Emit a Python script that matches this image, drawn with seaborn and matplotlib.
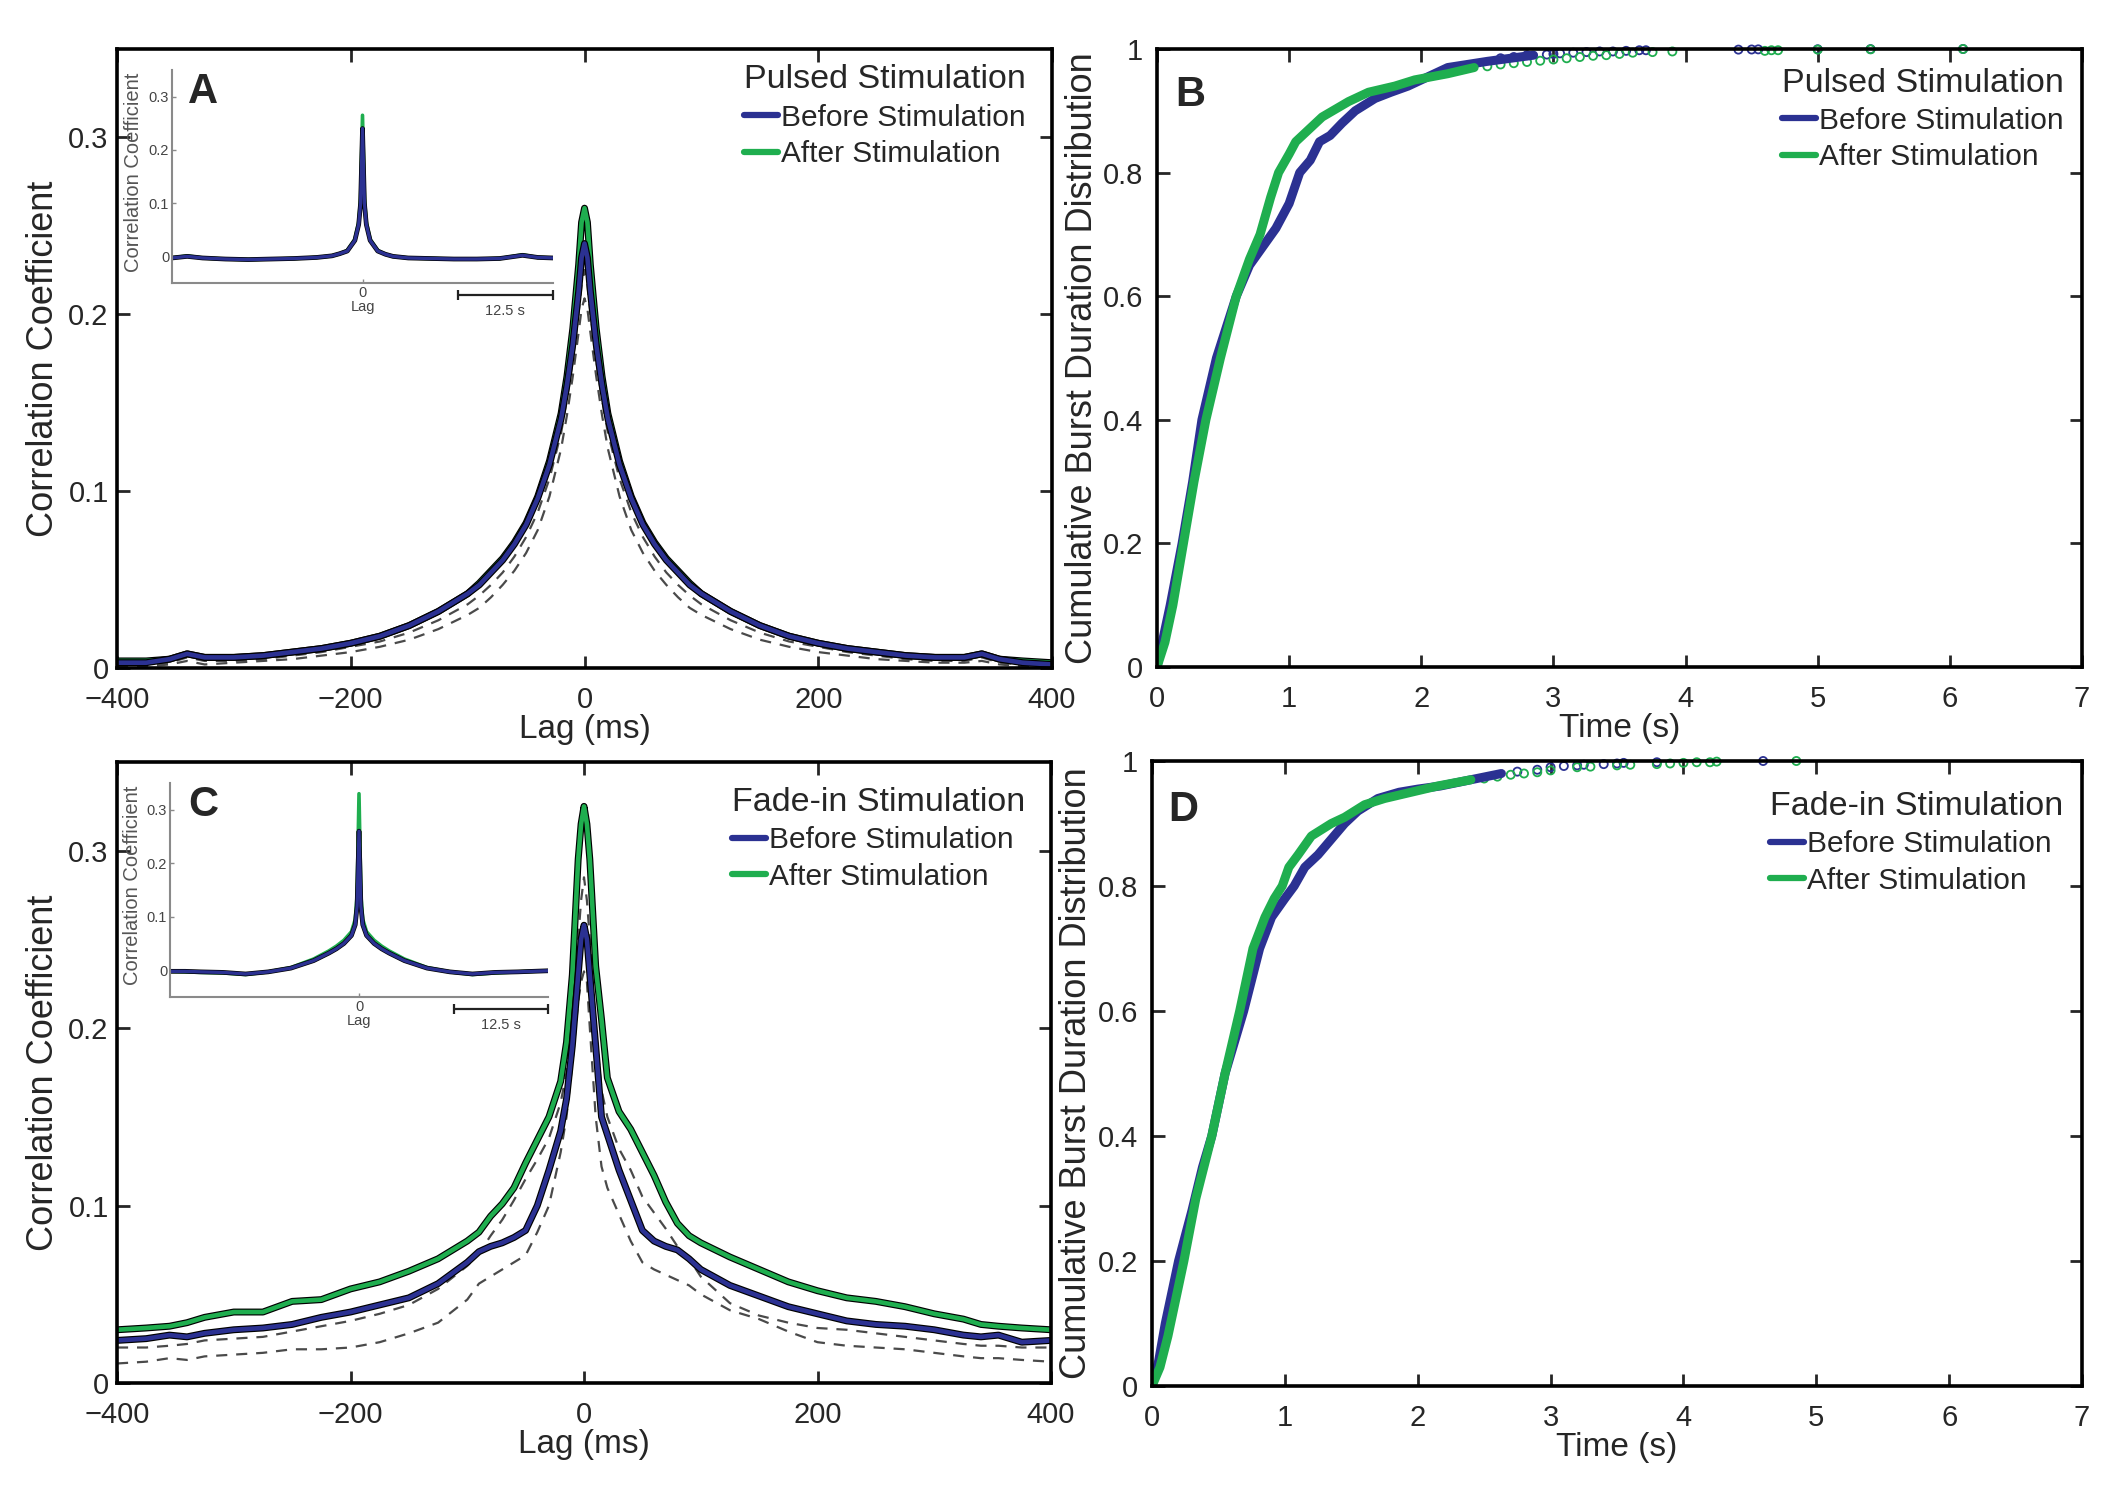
import matplotlib
matplotlib.use("Agg")
import matplotlib.pyplot as plt
import matplotlib.patheffects as pe
from matplotlib.lines import Line2D
import seaborn as sns

sns.set_style("ticks")
plt.rcParams["font.family"] = ["Liberation Sans", "DejaVu Sans"]

BLUE = "#2b3192"
GREEN = "#1fae4f"
DASH = "#4a4a4a"

# ---- cross-correlation, main panels (lag in ms) ----
lag_ms = [-400, -375, -355, -340, -325, -300, -275, -250, -225, -200, -175, -150, -125, -100,
          -90, -80, -70, -60, -50, -40, -30, -20, -15, -10, -5, -2.5, 0, 2.5, 5, 10, 15, 20,
          30, 40, 50, 60, 70, 80, 90, 100, 125, 150, 175, 200, 225, 250, 275, 300, 325, 340,
          355, 375, 400]

a_before = [0.003, 0.003, 0.005, 0.008, 0.006, 0.006, 0.007, 0.009, 0.011, 0.014, 0.018, 0.024,
            0.032, 0.042, 0.047, 0.054, 0.061, 0.070, 0.081, 0.096, 0.115, 0.141, 0.160, 0.183,
            0.213, 0.232, 0.240, 0.232, 0.213, 0.183, 0.160, 0.141, 0.115, 0.096, 0.081, 0.070,
            0.061, 0.054, 0.047, 0.042, 0.032, 0.024, 0.018, 0.014, 0.011, 0.009, 0.007, 0.006,
            0.006, 0.008, 0.005, 0.003, 0.002]
a_after = [0.004, 0.004, 0.005, 0.008, 0.006, 0.006, 0.007, 0.009, 0.011, 0.014, 0.018, 0.024,
           0.032, 0.042, 0.048, 0.055, 0.062, 0.071, 0.082, 0.097, 0.117, 0.144, 0.165, 0.192,
           0.228, 0.252, 0.260, 0.252, 0.228, 0.192, 0.165, 0.144, 0.117, 0.097, 0.082, 0.071,
           0.062, 0.055, 0.048, 0.042, 0.032, 0.024, 0.018, 0.014, 0.011, 0.009, 0.007, 0.006,
           0.006, 0.008, 0.005, 0.004, 0.003]
a_ci_hi = [0.002, 0.002, 0.003, 0.006, 0.004, 0.004, 0.005, 0.007, 0.009, 0.012, 0.015, 0.020,
           0.027, 0.036, 0.041, 0.047, 0.054, 0.063, 0.074, 0.088, 0.107, 0.133, 0.152, 0.174,
           0.201, 0.217, 0.225, 0.217, 0.201, 0.174, 0.152, 0.133, 0.107, 0.088, 0.074, 0.063,
           0.054, 0.047, 0.041, 0.036, 0.027, 0.020, 0.015, 0.012, 0.009, 0.007, 0.005, 0.004,
           0.004, 0.006, 0.003, 0.002, 0.002]
a_ci_lo = [0.001, 0.001, 0.002, 0.004, 0.002, 0.003, 0.004, 0.005, 0.007, 0.009, 0.012, 0.016,
           0.022, 0.030, 0.034, 0.040, 0.047, 0.055, 0.065, 0.078, 0.097, 0.124, 0.143, 0.165,
           0.190, 0.203, 0.209, 0.203, 0.190, 0.165, 0.143, 0.124, 0.097, 0.078, 0.065, 0.055,
           0.047, 0.040, 0.034, 0.030, 0.022, 0.016, 0.012, 0.009, 0.007, 0.005, 0.004, 0.003,
           0.003, 0.004, 0.002, 0.001, 0.001]

c_before = [0.024, 0.025, 0.027, 0.026, 0.028, 0.030, 0.031, 0.033, 0.037, 0.040, 0.044, 0.048,
            0.056, 0.068, 0.074, 0.077, 0.079, 0.082, 0.086, 0.100, 0.120, 0.142, 0.160, 0.190,
            0.230, 0.250, 0.258, 0.250, 0.230, 0.190, 0.150, 0.140, 0.120, 0.103, 0.086, 0.080,
            0.077, 0.075, 0.070, 0.064, 0.055, 0.049, 0.043, 0.039, 0.035, 0.033, 0.032, 0.030,
            0.027, 0.026, 0.027, 0.023, 0.024]
c_after = [0.030, 0.031, 0.032, 0.034, 0.037, 0.040, 0.040, 0.046, 0.047, 0.053, 0.057, 0.063,
           0.070, 0.080, 0.085, 0.094, 0.101, 0.110, 0.124, 0.137, 0.150, 0.170, 0.192, 0.230,
           0.295, 0.315, 0.325, 0.315, 0.295, 0.235, 0.205, 0.172, 0.153, 0.143, 0.130, 0.117,
           0.102, 0.090, 0.083, 0.079, 0.071, 0.064, 0.057, 0.052, 0.048, 0.046, 0.043, 0.039,
           0.036, 0.033, 0.032, 0.031, 0.030]
c_ci_hi = [0.020, 0.020, 0.021, 0.022, 0.024, 0.025, 0.026, 0.029, 0.032, 0.035, 0.039, 0.044,
           0.053, 0.066, 0.073, 0.083, 0.092, 0.103, 0.115, 0.126, 0.138, 0.158, 0.175, 0.205,
           0.250, 0.272, 0.285, 0.272, 0.250, 0.200, 0.165, 0.150, 0.132, 0.120, 0.105, 0.096,
           0.087, 0.077, 0.070, 0.060, 0.045, 0.038, 0.034, 0.031, 0.030, 0.028, 0.026, 0.024,
           0.022, 0.021, 0.021, 0.020, 0.020]
c_ci_lo = [0.011, 0.012, 0.014, 0.013, 0.015, 0.016, 0.017, 0.019, 0.019, 0.020, 0.023, 0.028,
           0.034, 0.047, 0.056, 0.060, 0.064, 0.068, 0.072, 0.085, 0.100, 0.130, 0.150, 0.180,
           0.215, 0.226, 0.232, 0.226, 0.200, 0.150, 0.122, 0.110, 0.095, 0.080, 0.068, 0.064,
           0.061, 0.058, 0.055, 0.050, 0.041, 0.036, 0.029, 0.023, 0.021, 0.020, 0.019, 0.017,
           0.015, 0.014, 0.014, 0.013, 0.012]

# ---- insets (lag in s) ----
inset_lag_s = [-25, -23, -21, -18, -15, -12, -9, -6, -4, -3, -2, -1, -0.5, -0.25, 0, 0.25, 0.5,
               1, 2, 3, 4, 6, 9, 12, 15, 18, 21, 23, 25]
ia_before = [-0.003, 0.000, -0.003, -0.005, -0.006, -0.005, -0.004, -0.002, 0.001, 0.005, 0.010,
             0.030, 0.060, 0.100, 0.240, 0.100, 0.060, 0.030, 0.010, 0.004, 0.000, -0.003, -0.004,
             -0.005, -0.005, -0.004, 0.002, -0.002, -0.003]
ia_after = [-0.003, 0.001, -0.003, -0.005, -0.006, -0.005, -0.004, -0.002, 0.001, 0.005, 0.011,
            0.032, 0.064, 0.108, 0.265, 0.108, 0.064, 0.032, 0.011, 0.004, 0.000, -0.003, -0.004,
            -0.005, -0.005, -0.004, 0.003, -0.002, -0.003]
ic_before = [-0.002, -0.002, -0.003, -0.004, -0.007, -0.003, 0.004, 0.018, 0.032, 0.040, 0.050,
             0.065, 0.085, 0.120, 0.260, 0.120, 0.085, 0.065, 0.050, 0.040, 0.032, 0.018, 0.004,
             -0.003, -0.007, -0.004, -0.003, -0.002, -0.001]
ic_after = [-0.002, -0.003, -0.004, -0.005, -0.008, -0.003, 0.005, 0.021, 0.036, 0.045, 0.056,
            0.072, 0.095, 0.140, 0.330, 0.140, 0.095, 0.072, 0.056, 0.045, 0.036, 0.021, 0.005,
            -0.003, -0.008, -0.005, -0.003, -0.002, -0.001]

# ---- cumulative burst duration distributions ----
b_before_t = [0, 0.05, 0.1, 0.19, 0.27, 0.34, 0.45, 0.6, 0.7, 0.8, 0.9, 1.0, 1.08, 1.16, 1.23,
              1.31, 1.4, 1.5, 1.65, 1.77, 1.9, 2.0, 2.2, 2.5, 2.85]
b_before_p = [0, 0.05, 0.1, 0.2, 0.3, 0.4, 0.5, 0.6, 0.65, 0.68, 0.71, 0.75, 0.8, 0.82, 0.85,
              0.86, 0.88, 0.9, 0.92, 0.93, 0.94, 0.95, 0.97, 0.98, 0.99]
b_before_tail_t = [2.6, 2.7, 2.8, 2.95, 3.0, 3.05, 3.15, 3.25, 3.35, 3.45, 3.55, 3.65, 3.7, 4.4,
                   4.5, 4.55, 5.0, 5.4, 6.1]
b_before_tail_p = [0.985, 0.987, 0.99, 0.991, 0.992, 0.993, 0.994, 0.995, 0.996, 0.996, 0.997,
                   0.998, 0.998, 0.999, 0.9992, 0.9994, 0.9996, 0.9998, 1.0]
b_after_t = [0, 0.06, 0.12, 0.2, 0.28, 0.37, 0.48, 0.6, 0.7, 0.78, 0.86, 0.92, 1.0, 1.05, 1.15,
             1.25, 1.33, 1.45, 1.6, 1.8, 1.95, 2.2, 2.4]
b_after_p = [0, 0.04, 0.1, 0.2, 0.3, 0.4, 0.5, 0.6, 0.66, 0.7, 0.76, 0.8, 0.83, 0.85, 0.87,
             0.89, 0.9, 0.915, 0.93, 0.94, 0.95, 0.96, 0.97]
b_after_tail_t = [2.5, 2.6, 2.7, 2.8, 2.9, 3.0, 3.1, 3.2, 3.3, 3.4, 3.5, 3.6, 3.75, 3.9, 4.6,
                  4.65, 4.7, 5.0, 5.4, 6.1]
b_after_tail_p = [0.972, 0.975, 0.977, 0.979, 0.981, 0.983, 0.985, 0.987, 0.989, 0.99, 0.992,
                  0.994, 0.995, 0.996, 0.997, 0.998, 0.998, 0.999, 0.9995, 1.0]

d_before_t = [0, 0.05, 0.1, 0.2, 0.3, 0.38, 0.45, 0.55, 0.62, 0.69, 0.75, 0.81, 0.9, 1.0, 1.07,
              1.15, 1.25, 1.35, 1.45, 1.55, 1.7, 1.86, 2.0, 2.17, 2.4, 2.63]
d_before_p = [0, 0.04, 0.1, 0.2, 0.28, 0.35, 0.4, 0.5, 0.55, 0.6, 0.65, 0.7, 0.75, 0.78, 0.8,
              0.83, 0.85, 0.875, 0.9, 0.92, 0.94, 0.95, 0.955, 0.96, 0.97, 0.98]
d_before_tail_t = [2.75, 2.9, 3.0, 3.1, 3.2, 3.25, 3.4, 3.5, 3.55, 3.8, 4.6]
d_before_tail_p = [0.983, 0.986, 0.99, 0.992, 0.993, 0.994, 0.995, 0.996, 0.997, 0.998, 1.0]
d_after_t = [0, 0.06, 0.12, 0.24, 0.33, 0.45, 0.55, 0.66, 0.72, 0.76, 0.85, 0.92, 0.98, 1.03,
             1.1, 1.2, 1.35, 1.45, 1.6, 1.75, 1.95, 2.15, 2.4]
d_after_p = [0, 0.03, 0.08, 0.2, 0.3, 0.4, 0.5, 0.6, 0.66, 0.7, 0.75, 0.78, 0.8, 0.83, 0.85,
             0.88, 0.9, 0.91, 0.93, 0.94, 0.95, 0.96, 0.97]
d_after_tail_t = [2.5, 2.6, 2.7, 2.8, 2.9, 3.0, 3.2, 3.3, 3.5, 3.6, 3.8, 3.9, 4.0, 4.1, 4.2,
                  4.25, 4.85]
d_after_tail_p = [0.972, 0.975, 0.978, 0.98, 0.982, 0.985, 0.99, 0.991, 0.993, 0.994, 0.995,
                  0.996, 0.997, 0.998, 0.998, 0.999, 1.0]

legend_labels = ["Before Stimulation", "After Stimulation"]


def outline(w):
    return [pe.Stroke(linewidth=w, foreground="black"), pe.Normal()]


def frame(ax):
    for s in ax.spines.values():
        s.set_visible(True)
        s.set_linewidth(2.6)
        s.set_color("black")
    ax.tick_params(direction="in", length=9, width=2, top=True, right=True, labelsize=21)
    ax.tick_params(axis="x", pad=13)


def add_legend(ax, title, anchor):
    handles = [Line2D([], [], color=BLUE, lw=4.5), Line2D([], [], color=GREEN, lw=4.5)]
    ax.legend(handles, legend_labels, title=title, loc="upper right", bbox_to_anchor=anchor,
              frameon=False, fontsize=21.5, title_fontsize=24.5, handlelength=1.15,
              handletextpad=0.1, labelspacing=0.28, borderaxespad=0, borderpad=0,
              alignment="left")


def corr_panel(rect, before, after, ci_hi, ci_lo, letter, title, anchor):
    ax = fig.add_axes(rect)
    for ci in (ci_hi, ci_lo):
        sns.lineplot(x=lag_ms, y=ci, ax=ax, color=DASH, lw=1.6, linestyle=(0, (5, 4)))
    sns.lineplot(x=lag_ms, y=after, ax=ax, color=GREEN, lw=3.3, path_effects=outline(5.0))
    sns.lineplot(x=lag_ms, y=before, ax=ax, color=BLUE, lw=3.3, path_effects=outline(5.0))
    ax.set_xlim(-400, 400)
    ax.set_ylim(0, 0.35)
    ax.set_xticks([-400, -200, 0, 200, 400])
    ax.set_xticklabels(["\u2212400", "\u2212200", "0", "200", "400"])
    ax.set_yticks([0, 0.1, 0.2, 0.3])
    ax.set_yticklabels(["0", "0.1", "0.2", "0.3"])
    frame(ax)
    ax.tick_params(axis="y", pad=6)
    ax.set_xlabel("Lag (ms)", fontsize=24, labelpad=0)
    ax.set_ylabel("Correlation Coefficient", fontsize=26)
    ax.yaxis.set_label_coords(-0.06, 0.5)
    ax.text(0.092, 0.93, letter, transform=ax.transAxes, fontsize=30, fontweight="bold",
            ha="center", va="center")
    add_legend(ax, title, anchor)
    return ax


def inset_panel(rect, before, after):
    ins = fig.add_axes(rect)
    ins.patch.set_alpha(0)
    sns.lineplot(x=inset_lag_s, y=after, ax=ins, color=GREEN, lw=2.6)
    sns.lineplot(x=inset_lag_s, y=before, ax=ins, color=BLUE, lw=2.4, path_effects=outline(3.4))
    ins.set_xlim(-25, 25)
    ins.set_ylim(-0.05, 0.35)
    ins.set_xticks([0])
    ins.set_xticklabels(["0"])
    ins.set_yticks([0, 0.1, 0.2, 0.3])
    ins.set_yticklabels(["0", "0.1", "0.2", "0.3"])
    for side in ("top", "right"):
        ins.spines[side].set_visible(False)
    for side in ("left", "bottom"):
        ins.spines[side].set_color("#8a8a8a")
        ins.spines[side].set_linewidth(1.5)
    ins.tick_params(direction="in", length=3, width=1, labelsize=10.5, colors="#8a8a8a",
                    labelcolor="#444444", pad=2)
    ins.set_xlabel("Lag", fontsize=10.5, labelpad=0, color="#444444")
    ins.set_ylabel("Correlation Coefficient", fontsize=14.5, color="#555555")
    ins.yaxis.set_label_coords(-0.075, 0.52)
    ins.plot([12.5, 25], [-0.072, -0.072], color="#222222", lw=1.6, marker="|", markersize=7,
             markeredgewidth=1.6, clip_on=False)
    ins.text(18.75, -0.102, "12.5 s", ha="center", va="center", fontsize=10.5, color="#444444")


def cdf_panel(rect, bt, bp, btt, btp, at, ap, att, atp, letter, title, anchor, lx, ly):
    ax = fig.add_axes(rect)
    sns.lineplot(x=bt, y=bp, ax=ax, color=BLUE, lw=6.5, sort=False)
    sns.lineplot(x=at, y=ap, ax=ax, color=GREEN, lw=6.5, sort=False)
    sns.scatterplot(x=btt, y=btp, ax=ax, marker="o", s=34, facecolors="none", edgecolor=BLUE,
                    linewidth=1.3, clip_on=False)
    sns.scatterplot(x=att, y=atp, ax=ax, marker="o", s=34, facecolors="none", edgecolor=GREEN,
                    linewidth=1.3, clip_on=False)
    ax.set_xlim(0, 7)
    ax.set_ylim(0, 1)
    ax.set_xticks(range(8))
    ax.set_yticks([0, 0.2, 0.4, 0.6, 0.8, 1])
    ax.set_yticklabels(["0", "0.2", "0.4", "0.6", "0.8", "1"])
    frame(ax)
    ax.tick_params(axis="y", pad=10)
    ax.set_xlabel("Time (s)", fontsize=24, labelpad=0)
    ax.set_ylabel("Cumulative Burst Duration Distribution", fontsize=26)
    ax.yaxis.set_label_coords(-0.062, 0.5)
    ax.text(lx, ly, letter, transform=ax.transAxes, fontsize=30, fontweight="bold",
            ha="center", va="center")
    add_legend(ax, title, anchor)
    return ax


fig = plt.figure(figsize=(21.21, 15.05), dpi=100)
fig.patch.set_facecolor("white")

W, H = 2121.0, 1505.0


def rect(left, top, right, bottom):
    return [left / W, 1 - bottom / H, (right - left) / W, (bottom - top) / H]


corr_panel(rect(117, 49, 1052, 668), a_before, a_after, a_ci_hi, a_ci_lo, "A",
           "Pulsed Stimulation", (0.972, 0.975))
inset_panel(rect(172, 70, 553, 283), ia_before, ia_after)

corr_panel(rect(117, 762, 1051, 1383), c_before, c_after, c_ci_hi, c_ci_lo, "C",
           "Fade-in Stimulation", (0.972, 0.96))
inset_panel(rect(170, 783, 548, 997), ic_before, ic_after)

cdf_panel(rect(1157, 49, 2082, 667), b_before_t, b_before_p, b_before_tail_t, b_before_tail_p,
          b_after_t, b_after_p, b_after_tail_t, b_after_tail_p, "B", "Pulsed Stimulation",
          (0.98, 0.97), 0.036, 0.925)
cdf_panel(rect(1152, 761, 2082, 1386), d_before_t, d_before_p, d_before_tail_t, d_before_tail_p,
          d_after_t, d_after_p, d_after_tail_t, d_after_tail_p, "D", "Fade-in Stimulation",
          (0.98, 0.952), 0.034, 0.922)

fig.savefig("out.png", dpi=100, facecolor="white")
